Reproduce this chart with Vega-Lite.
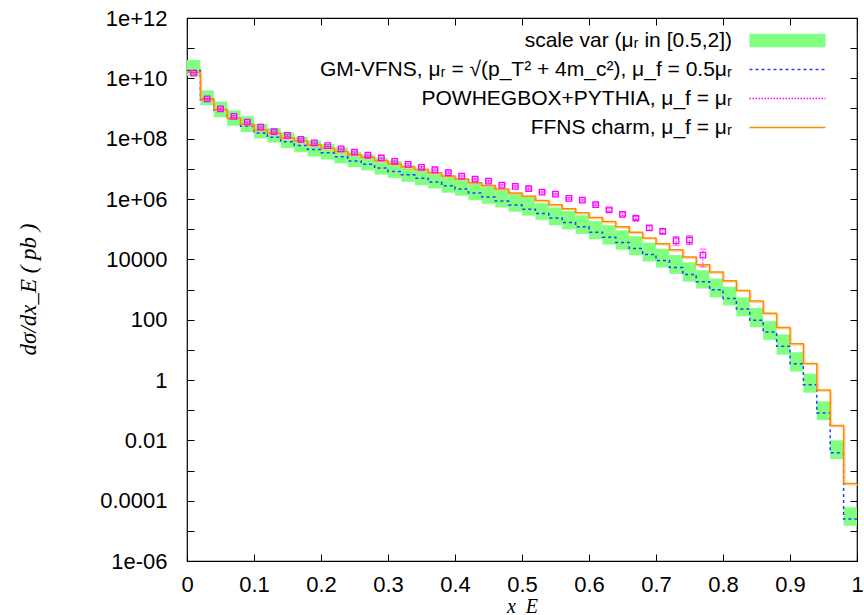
{
  "$schema": "https://vega.github.io/schema/vega-lite/v6.json",
  "width": 670,
  "height": 543,
  "autosize": {"type": "none"},
  "padding": {"left": 187, "top": 18, "right": 7, "bottom": 54},
  "background": "white",
  "config": {
    "view": {"stroke": "black", "strokeWidth": 1.2},
    "font": "Liberation Sans",
    "axis": {"grid": false, "domain": false, "tickColor": "black", "labelColor": "black", "labelFont": "Liberation Sans", "labelFontSize": 22, "tickSize": -7, "tickWidth": 1},
    "legend": {"orient": "none", "title": null, "padding": 0, "labelFont": "Liberation Sans", "labelFontSize": 21, "labelColor": "black", "labelLimit": 1000, "labelAlign": "right", "labelOffset": -66, "symbolSize": 361, "symbolOpacity": 1}
  },
  "data": {"values": [
    {"x0": 0, "x1": 0.02, "xc": 0.01, "lo": 1.18e10, "hi": 4.07e10, "gm": 1.82e10, "ff": 1.58e10, "pw": 1.48e10, "pl": 1.38e10, "ph": 1.58e10},
    {"x0": 0.02, "x1": 0.04, "xc": 0.03, "lo": 1.29e9, "hi": 3.98e9, "gm": 1.95e9, "ff": 2.09e9, "pw": 2.09e9, "pl": 1.95e9, "ph": 2.24e9},
    {"x0": 0.04, "x1": 0.06, "xc": 0.05, "lo": 5.13e8, "hi": 1.70e9, "gm": 8.71e8, "ff": 9.33e8, "pw": 9.77e8, "pl": 9.12e8, "ph": 1.05e9},
    {"x0": 0.06, "x1": 0.08, "xc": 0.07, "lo": 2.69e8, "hi": 8.71e8, "gm": 4.37e8, "ff": 4.79e8, "pw": 5.50e8, "pl": 5.13e8, "ph": 5.89e8},
    {"x0": 0.08, "x1": 0.10, "xc": 0.09, "lo": 1.66e8, "hi": 5.50e8, "gm": 2.57e8, "ff": 3.02e8, "pw": 3.55e8, "pl": 3.31e8, "ph": 3.80e8},
    {"x0": 0.10, "x1": 0.12, "xc": 0.11, "lo": 1.02e8, "hi": 3.09e8, "gm": 1.55e8, "ff": 1.95e8, "pw": 2.40e8, "pl": 2.24e8, "ph": 2.57e8},
    {"x0": 0.12, "x1": 0.14, "xc": 0.13, "lo": 7.41e7, "hi": 2.24e8, "gm": 1.12e8, "ff": 1.51e8, "pw": 1.70e8, "pl": 1.58e8, "ph": 1.82e8},
    {"x0": 0.14, "x1": 0.16, "xc": 0.15, "lo": 4.90e7, "hi": 1.62e8, "gm": 7.94e7, "ff": 1.05e8, "pw": 1.29e8, "pl": 1.20e8, "ph": 1.38e8},
    {"x0": 0.16, "x1": 0.18, "xc": 0.17, "lo": 3.55e7, "hi": 1.15e8, "gm": 5.89e7, "ff": 8.32e7, "pw": 9.55e7, "pl": 8.91e7, "ph": 1.02e8},
    {"x0": 0.18, "x1": 0.20, "xc": 0.19, "lo": 2.57e7, "hi": 8.71e7, "gm": 4.37e7, "ff": 6.17e7, "pw": 7.24e7, "pl": 6.76e7, "ph": 7.76e7},
    {"x0": 0.20, "x1": 0.22, "xc": 0.21, "lo": 2.04e7, "hi": 6.61e7, "gm": 3.39e7, "ff": 4.79e7, "pw": 5.89e7, "pl": 5.50e7, "ph": 6.31e7},
    {"x0": 0.22, "x1": 0.24, "xc": 0.23, "lo": 1.51e7, "hi": 5.13e7, "gm": 2.51e7, "ff": 3.72e7, "pw": 4.57e7, "pl": 4.27e7, "ph": 4.90e7},
    {"x0": 0.24, "x1": 0.26, "xc": 0.25, "lo": 1.15e7, "hi": 3.72e7, "gm": 1.82e7, "ff": 2.95e7, "pw": 3.55e7, "pl": 3.31e7, "ph": 3.80e7},
    {"x0": 0.26, "x1": 0.28, "xc": 0.27, "lo": 8.91e6, "hi": 2.95e7, "gm": 1.41e7, "ff": 2.40e7, "pw": 2.82e7, "pl": 2.63e7, "ph": 3.02e7},
    {"x0": 0.28, "x1": 0.30, "xc": 0.29, "lo": 6.46e6, "hi": 2.29e7, "gm": 1.07e7, "ff": 1.86e7, "pw": 2.29e7, "pl": 2.14e7, "ph": 2.45e7},
    {"x0": 0.30, "x1": 0.32, "xc": 0.31, "lo": 5.01e6, "hi": 1.82e7, "gm": 8.13e6, "ff": 1.45e7, "pw": 1.78e7, "pl": 1.66e7, "ph": 1.91e7},
    {"x0": 0.32, "x1": 0.34, "xc": 0.33, "lo": 3.72e6, "hi": 1.32e7, "gm": 6.31e6, "ff": 1.15e7, "pw": 1.41e7, "pl": 1.32e7, "ph": 1.51e7},
    {"x0": 0.34, "x1": 0.36, "xc": 0.35, "lo": 2.88e6, "hi": 1.02e7, "gm": 4.90e6, "ff": 9.55e6, "pw": 1.12e7, "pl": 1.05e7, "ph": 1.20e7},
    {"x0": 0.36, "x1": 0.38, "xc": 0.37, "lo": 2.24e6, "hi": 7.76e6, "gm": 3.63e6, "ff": 7.41e6, "pw": 9.33e6, "pl": 8.71e6, "ph": 1.00e7},
    {"x0": 0.38, "x1": 0.40, "xc": 0.39, "lo": 1.62e6, "hi": 5.89e6, "gm": 2.75e6, "ff": 5.75e6, "pw": 7.41e6, "pl": 6.92e6, "ph": 7.94e6},
    {"x0": 0.40, "x1": 0.42, "xc": 0.41, "lo": 1.29e6, "hi": 4.57e6, "gm": 2.14e6, "ff": 4.57e6, "pw": 5.75e6, "pl": 5.37e6, "ph": 6.17e6},
    {"x0": 0.42, "x1": 0.44, "xc": 0.43, "lo": 9.12e5, "hi": 3.47e6, "gm": 1.58e6, "ff": 3.47e6, "pw": 4.57e6, "pl": 4.27e6, "ph": 4.90e6},
    {"x0": 0.44, "x1": 0.46, "xc": 0.45, "lo": 6.92e5, "hi": 2.63e6, "gm": 1.17e6, "ff": 2.82e6, "pw": 3.89e6, "pl": 3.63e6, "ph": 4.17e6},
    {"x0": 0.46, "x1": 0.48, "xc": 0.47, "lo": 5.25e5, "hi": 2.04e6, "gm": 8.51e5, "ff": 2.14e6, "pw": 2.88e6, "pl": 2.69e6, "ph": 3.09e6},
    {"x0": 0.48, "x1": 0.50, "xc": 0.49, "lo": 3.80e5, "hi": 1.55e6, "gm": 6.31e5, "ff": 1.58e6, "pw": 2.63e6, "pl": 2.45e6, "ph": 2.82e6},
    {"x0": 0.50, "x1": 0.52, "xc": 0.51, "lo": 2.82e5, "hi": 1.17e6, "gm": 4.57e5, "ff": 1.23e6, "pw": 2.19e6, "pl": 2.04e6, "ph": 2.34e6},
    {"x0": 0.52, "x1": 0.54, "xc": 0.53, "lo": 2.04e5, "hi": 7.24e5, "gm": 3.31e5, "ff": 8.91e5, "pw": 1.70e6, "pl": 1.58e6, "ph": 1.82e6},
    {"x0": 0.54, "x1": 0.56, "xc": 0.55, "lo": 1.35e5, "hi": 5.25e5, "gm": 2.34e5, "ff": 6.46e5, "pw": 1.45e6, "pl": 1.35e6, "ph": 1.55e6},
    {"x0": 0.56, "x1": 0.58, "xc": 0.57, "lo": 9.77e4, "hi": 3.98e5, "gm": 1.66e5, "ff": 4.79e5, "pw": 1.05e6, "pl": 9.77e5, "ph": 1.12e6},
    {"x0": 0.58, "x1": 0.60, "xc": 0.59, "lo": 6.92e4, "hi": 2.88e5, "gm": 1.20e5, "ff": 3.47e5, "pw": 9.12e5, "pl": 8.51e5, "ph": 9.77e5},
    {"x0": 0.60, "x1": 0.62, "xc": 0.61, "lo": 4.68e4, "hi": 1.86e5, "gm": 7.94e4, "ff": 2.45e5, "pw": 6.46e5, "pl": 6.03e5, "ph": 6.92e5},
    {"x0": 0.62, "x1": 0.64, "xc": 0.63, "lo": 3.09e4, "hi": 1.35e5, "gm": 5.37e4, "ff": 1.78e5, "pw": 4.37e5, "pl": 3.89e5, "ph": 4.90e5},
    {"x0": 0.64, "x1": 0.66, "xc": 0.65, "lo": 2.09e4, "hi": 9.12e4, "gm": 3.63e4, "ff": 1.20e5, "pw": 3.09e5, "pl": 2.75e5, "ph": 3.47e5},
    {"x0": 0.66, "x1": 0.68, "xc": 0.67, "lo": 1.38e4, "hi": 5.75e4, "gm": 2.29e4, "ff": 7.94e4, "pw": 2.34e5, "pl": 2.09e5, "ph": 2.63e5},
    {"x0": 0.68, "x1": 0.70, "xc": 0.69, "lo": 8.51e3, "hi": 3.55e4, "gm": 1.45e4, "ff": 5.13e4, "pw": 1.10e5, "pl": 9.12e4, "ph": 1.32e5},
    {"x0": 0.70, "x1": 0.72, "xc": 0.71, "lo": 5.37e3, "hi": 2.24e4, "gm": 9.12e3, "ff": 3.31e4, "pw": 8.51e4, "pl": 7.08e4, "ph": 1.02e5},
    {"x0": 0.72, "x1": 0.74, "xc": 0.73, "lo": 3.31e3, "hi": 1.38e4, "gm": 5.37e3, "ff": 2.09e4, "pw": 4.17e4, "pl": 2.95e4, "ph": 5.62e4},
    {"x0": 0.74, "x1": 0.76, "xc": 0.75, "lo": 1.82e3, "hi": 7.94e3, "gm": 3.16e3, "ff": 1.20e4, "pw": 4.37e4, "pl": 3.09e4, "ph": 6.03e4},
    {"x0": 0.76, "x1": 0.78, "xc": 0.77, "lo": 1.07e3, "hi": 4.37e3, "gm": 1.82e3, "ff": 6.61e3, "pw": 1.38e4, "pl": 5.62e3, "ph": 2.19e4},
    {"x0": 0.78, "x1": 0.80, "xc": 0.79, "lo": 550, "hi": 2290, "gm": 977, "ff": 3800},
    {"x0": 0.80, "x1": 0.82, "xc": 0.81, "lo": 295, "hi": 1230, "gm": 501, "ff": 1950},
    {"x0": 0.82, "x1": 0.84, "xc": 0.83, "lo": 129, "hi": 550, "gm": 224, "ff": 933},
    {"x0": 0.84, "x1": 0.86, "xc": 0.85, "lo": 56.2, "hi": 245, "gm": 95.5, "ff": 417},
    {"x0": 0.86, "x1": 0.88, "xc": 0.87, "lo": 21.4, "hi": 89.1, "gm": 38.9, "ff": 162},
    {"x0": 0.88, "x1": 0.90, "xc": 0.89, "lo": 6.92, "hi": 32.4, "gm": 13.2, "ff": 55.0},
    {"x0": 0.90, "x1": 0.92, "xc": 0.91, "lo": 1.91, "hi": 8.32, "gm": 3.47, "ff": 15.8},
    {"x0": 0.92, "x1": 0.94, "xc": 0.93, "lo": 0.380, "hi": 1.62, "gm": 0.692, "ff": 3.55},
    {"x0": 0.94, "x1": 0.96, "xc": 0.95, "lo": 0.0468, "hi": 0.195, "gm": 0.0813, "ff": 0.468},
    {"x0": 0.96, "x1": 0.98, "xc": 0.97, "lo": 0.0024, "hi": 0.0100, "gm": 0.00389, "ff": 0.0309},
    {"x0": 0.98, "x1": 1.0, "xc": 0.99, "lo": 1.48e-5, "hi": 6.03e-5, "gm": 2.45e-5, "ff": 3.72e-4},
    {"x0": 1.0, "gm": 2.45e-5, "ff": 3.72e-4}
  ]},
  "layer": [
    {
      "mark": {"type": "rect", "opacity": 1},
      "encoding": {
        "x": {"field": "x0", "type": "quantitative", "scale": {"domain": [0, 1], "nice": false, "zero": false},
              "axis": {"orient": "bottom", "values": [0, 0.1, 0.2, 0.3, 0.4, 0.5, 0.6, 0.7, 0.8, 0.9, 1], "format": "~g", "labelPadding": 20, "labelFlush": false, "labelOverlap": false,
                       "title": "x_E", "titleFont": "Liberation Serif", "titleFontStyle": "italic", "titleFontWeight": "normal", "titleFontSize": 20, "titleX": 335, "titleY": 51, "titleAlign": "center", "titleBaseline": "alphabetic"}},
        "x2": {"field": "x1"},
        "y": {"field": "lo", "type": "quantitative", "scale": {"type": "log", "domain": [1e-6, 1e12], "nice": false},
              "axis": {"orient": "left", "values": [1e-6, 1e-5, 1e-4, 1e-3, 1e-2, 1e-1, 1, 10, 100, 1000, 1e4, 1e5, 1e6, 1e7, 1e8, 1e9, 1e10, 1e11, 1e12],
                       "labelExpr": "round(log(datum.value)/LN10) % 2 != 0 ? '' : datum.value > 1e9 ? format(datum.value, '.0e') : datum.value > 1e5 ? replace(format(datum.value, '.0e'), 'e+', 'e+0') : datum.value >= 1e-5 ? format(datum.value, '~g') : replace(format(datum.value, '.0e'), 'e-', 'e-0')",
                       "labelPadding": 27, "labelFlush": false, "labelOverlap": false,
                       "title": "dσ/dx_E  ( pb )", "titleFont": "Liberation Serif", "titleFontStyle": "italic", "titleFontWeight": "normal", "titleFontSize": 23, "titleX": -159, "titleY": 271, "titleAngle": -90, "titleAlign": "center", "titleBaseline": "middle"}},
        "y2": {"field": "hi"},
        "fill": {"datum": "scale var (μᵣ in [0.5,2])", "scale": {"range": ["#80ff80"]},
                 "legend": {"legendX": 590, "legendY": 12, "symbolType": "M-4,-0.7H4V0.7H-4Z", "symbolStrokeWidth": 0}}
      }
    },
    {
      "mark": {"type": "line", "interpolate": "step-after", "strokeDash": [3, 3], "strokeWidth": 1.5},
      "encoding": {
        "x": {"field": "x0", "type": "quantitative", "axis": {"orient": "top", "values": [0, 0.1, 0.2, 0.3, 0.4, 0.5, 0.6, 0.7, 0.8, 0.9, 1], "labels": false, "title": null}},
        "y": {"field": "gm", "type": "quantitative", "axis": {"orient": "right", "values": [1e-6, 1e-5, 1e-4, 1e-3, 1e-2, 1e-1, 1, 10, 100, 1000, 1e4, 1e5, 1e6, 1e7, 1e8, 1e9, 1e10, 1e11, 1e12], "labels": false, "title": null}},
        "stroke": {"datum": "GM-VFNS,  μᵣ = √(p_T² + 4m_c²), μ_f = 0.5μᵣ", "scale": {"range": ["#2040ff"]},
                   "legend": {"legendX": 590, "legendY": 41, "symbolType": "M-4,0H4", "symbolStrokeWidth": 1.5, "symbolDash": [3, 3], "symbolFillColor": "transparent"}}
      }
    },
    {
      "mark": {"type": "line", "interpolate": "step-after", "strokeWidth": 1.5, "color": "#ffc27a", "opacity": 0.7, "xOffset": 1.2, "yOffset": 1.2},
      "encoding": {
        "x": {"field": "x0", "type": "quantitative", "axis": null},
        "y": {"field": "ff", "type": "quantitative", "axis": null}
      }
    },
    {
      "mark": {"type": "line", "interpolate": "step-after", "strokeWidth": 1.5},
      "encoding": {
        "x": {"field": "x0", "type": "quantitative", "axis": null},
        "y": {"field": "ff", "type": "quantitative", "axis": null},
        "color": {"datum": "FFNS charm, μ_f = μᵣ", "scale": {"range": ["#ff8c00"]},
                  "legend": {"legendX": 590, "legendY": 99, "symbolType": "M-4,0H4", "symbolStrokeWidth": 1.5, "symbolFillColor": "transparent"}}
      }
    },
    {
      "mark": {"type": "rule", "color": "#ff00ff", "strokeWidth": 1},
      "encoding": {
        "x": {"field": "xc", "type": "quantitative", "axis": null},
        "y": {"field": "pl", "type": "quantitative", "axis": null},
        "y2": {"field": "ph"},
        "strokeDash": {"datum": "POWHEGBOX+PYTHIA, μ_f = μᵣ", "scale": {"range": [[1.5, 1.5]]},
                       "legend": {"legendX": 590, "legendY": 70, "symbolType": "M-4,0H4", "symbolStrokeWidth": 1.3, "symbolStrokeColor": "#ff00ff", "symbolFillColor": "transparent"}}
      }
    },
    {
      "mark": {"type": "tick", "orient": "horizontal", "color": "#ff00ff", "size": 7, "thickness": 1},
      "encoding": {
        "x": {"field": "xc", "type": "quantitative", "axis": null},
        "y": {"field": "pl", "type": "quantitative", "axis": null}
      }
    },
    {
      "mark": {"type": "tick", "orient": "horizontal", "color": "#ff00ff", "size": 7, "thickness": 1},
      "encoding": {
        "x": {"field": "xc", "type": "quantitative", "axis": null},
        "y": {"field": "ph", "type": "quantitative", "axis": null}
      }
    },
    {
      "mark": {"type": "point", "shape": "square", "filled": false, "size": 30, "strokeWidth": 1.3, "opacity": 1, "color": "#ff00ff"},
      "encoding": {
        "x": {"field": "xc", "type": "quantitative", "axis": null},
        "y": {"field": "pw", "type": "quantitative", "axis": null}
      }
    }
  ],
  "resolve": {"axis": {"x": "independent", "y": "independent"}}
}
